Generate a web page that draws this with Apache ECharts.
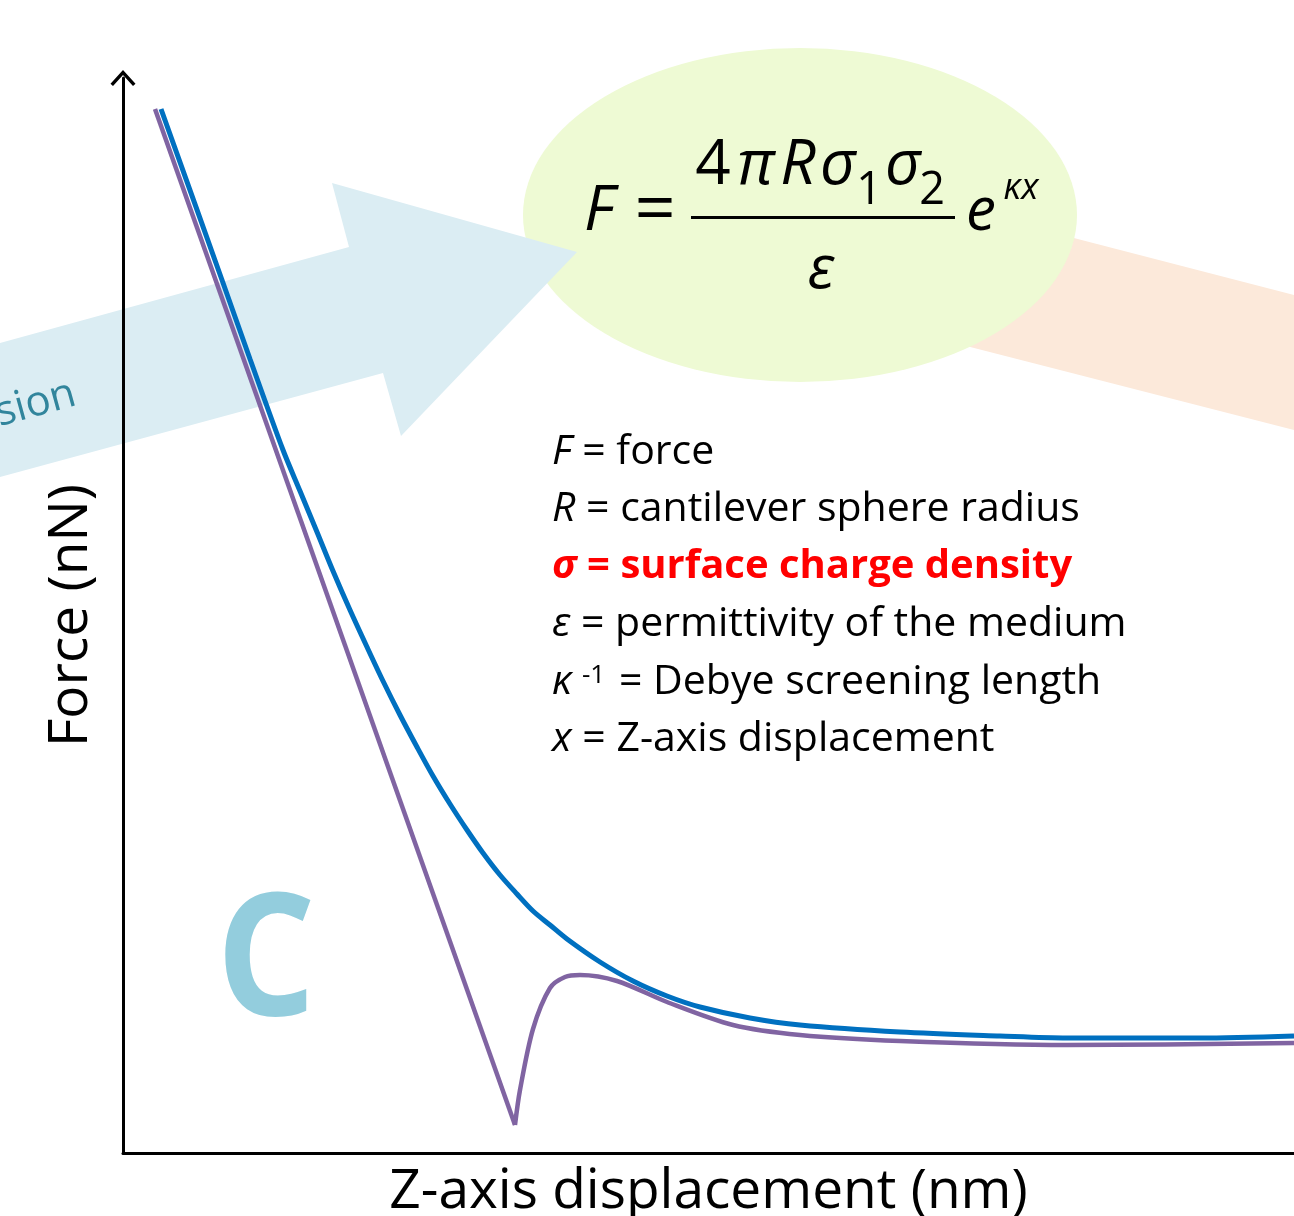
<!DOCTYPE html>
<html>
<head>
<meta charset="utf-8">
<script src="https://cdn.jsdelivr.net/npm/echarts@6/dist/echarts.min.js"></script>
<style>
  html, body { margin: 0; padding: 0; background: #fff; }
  #chart { width: 1294px; height: 1216px; }
</style>
</head>
<body>
<div id="chart"></div>
<script>
// force curves, arbitrary units (x: displacement, y: force)
const approachCurve = [
  [3.8, 104.4], [9.9, 87.3], [12.7, 79.4], [16.0, 70.3], [17.7, 66.2], [19.4, 62.1],
  [21.0, 58.2], [22.7, 54.3], [24.4, 50.6], [26.0, 47.2], [27.7, 43.8], [29.4, 40.6],
  [31.0, 37.7], [32.7, 34.9], [34.4, 32.3], [36.0, 30.0], [37.7, 27.8], [39.4, 25.9],
  [41.0, 24.2], [42.7, 22.8], [44.4, 21.4], [47.7, 19.1], [51.0, 17.2], [54.4, 15.7],
  [57.7, 14.6], [62.7, 13.5], [67.7, 12.8], [77.7, 12.1], [87.7, 11.7], [94.4, 11.5],
  [107.7, 11.5], [117.1, 11.7]
];
const retractLinear = [[3.2, 104.4], [39.2, 2.8]];
const retractCurve = [
  [39.2, 2.8], [39.7, 6.3], [41.0, 12.4], [42.7, 16.5], [44.2, 17.6], [45.7, 17.8],
  [49.4, 17.2], [54.4, 15.1], [61.0, 12.8], [67.7, 11.8], [77.7, 11.2], [94.4, 10.8], [117.1, 11.0]
];
const xMax = 117.1;
const yMax = 107.5;

const legendLines = [
  { text: "{i|F} = force", color: "#000", bold: false },
  { text: "{i|R} = cantilever sphere radius", color: "#000", bold: false },
  { text: "{i|σ} = surface charge density", color: "#ff0000", bold: true },
  { text: "{i|ε} = permittivity of the medium", color: "#000", bold: false },
  { text: "", color: "#000", bold: false },
  { text: "{i|x} = Z-axis displacement", color: "#000", bold: false }
];

const FONT = "Open Sans";
const BLUE = "#0070c0";
const PURPLE = "#8064a2";

function txt(x, y, text, size, extra) {
  return {
    type: "text",
    z: 20,
    style: Object.assign({
      x: x, y: y, text: text, fontSize: size, fontFamily: FONT, fill: "#000",
      align: "center", verticalAlign: "middle"
    }, extra || {})
  };
}

const graphics = [
  // background shapes
  { type: "polygon", z: -12, shape: { points: [[900, 193], [1294, 295], [1294, 430], [900, 329]] }, style: { fill: "#fce9da" } },
  { type: "circle", z: -11, x: 800, y: 215, scaleX: 277 / 167, shape: { cx: 0, cy: 0, r: 167 }, style: { fill: "#eefad4" } },
  { type: "polygon", z: -10, shape: { points: [[0, 343], [349, 247], [332, 183], [577, 252], [401, 436], [383, 373], [0, 477]] }, style: { fill: "#dbedf3" } },
  { type: "text", z: -9, x: 75, y: 393, rotation: 0.27,
    style: { x: 0, y: 0, text: "sion", fontSize: 42, fontFamily: FONT, fill: "#31859c", align: "right", verticalAlign: "middle" } },
  { type: "text", z: 1, x: 266, y: 967, scaleX: 0.92,
    style: { x: 0, y: 0, text: "C", fontSize: 170, fontFamily: FONT, fontWeight: "bold", fill: "#93cddd", align: "center", verticalAlign: "middle" } },

  // formula
  txt(599, 235 - 23, "F", 63, { fontStyle: "italic" }),
  txt(655, 212, "=", 72),
  { type: "rect", z: 20, shape: { x: 691, y: 216, width: 264, height: 3 }, style: { fill: "#000" } },
  txt(713, 188 - 22, "4", 62),
  txt(756, 188 - 22, "π", 62, { fontStyle: "italic" }),
  txt(798, 188 - 22, "R", 62, { fontStyle: "italic" }),
  txt(838, 188 - 22, "σ", 62, { fontStyle: "italic" }),
  txt(869, 207 - 16, "1", 45),
  txt(903, 188 - 22, "σ", 62, { fontStyle: "italic" }),
  txt(932, 207 - 16, "2", 45),
  txt(821, 293 - 22, "ε", 60, { fontStyle: "italic" }),
  txt(981, 235 - 22, "e", 60, { fontStyle: "italic" }),
  txt(1021, 202 - 13, "κx", 36, { fontStyle: "italic" }),

  // kappa line pieces
  txt(552, 697 - 15, "κ", 41, { fontStyle: "italic", align: "left" }),
  txt(582, 676, "-1", 26, { align: "left" }),
  txt(619, 697 - 15, "= Debye screening length", 41, { align: "left" })
];

legendLines.forEach(function (ln, k) {
  if (!ln.text) return;
  const base = 467 + k * 57.5;
  const size = ln.bold ? 40 : 41;
  graphics.push({
    type: "text", z: 20,
    style: {
      x: 552, y: base - 15, text: ln.text, fontSize: size, fontFamily: FONT,
      fill: ln.color, fontWeight: ln.bold ? "bold" : "normal",
      align: "left", verticalAlign: "middle",
      rich: {
        i: { fontStyle: "italic", fontSize: size, fontFamily: FONT, fill: ln.color, fontWeight: ln.bold ? "bold" : "normal" }
      }
    }
  });
});

const chart = echarts.init(document.getElementById("chart"));
chart.setOption({
  backgroundColor: "#fff",
  animation: false,
  grid: { left: 123, right: 0, top: 78, bottom: 63, outerBoundsMode: "none" },
  xAxis: {
    type: "value", min: 0, max: xMax,
    name: "Z-axis displacement (nm)", nameLocation: "middle", nameGap: 12,
    nameTextStyle: { fontSize: 55, fontFamily: FONT, color: "#000", verticalAlign: "top" },
    axisLine: { lineStyle: { color: "#000", width: 3 } },
    axisTick: { show: false }, axisLabel: { show: false }, splitLine: { show: false }
  },
  yAxis: {
    type: "value", min: 0, max: yMax,
    name: "Force (nN)", nameLocation: "middle", nameGap: 24,
    nameTextStyle: { fontSize: 55, fontFamily: FONT, color: "#000" },
    axisLine: {
      show: true,
      lineStyle: { color: "#000", width: 3 },
      symbol: ["none", "path://M0,13 L12,0 L24,13 L21.6,15.2 L12,4.6 L2.4,15.2 Z"],
      symbolSize: [25, 16]
    },
    axisTick: { show: false }, axisLabel: { show: false }, splitLine: { show: false }
  },
  graphic: graphics,
  series: [
    {
      name: "Approach", type: "line", data: approachCurve, smooth: 0.3, symbol: "none",
      lineStyle: { color: BLUE, width: 5 }, z: 3
    },
    {
      name: "Retract", type: "line", data: retractLinear, symbol: "none",
      lineStyle: { color: PURPLE, width: 4.5 }, z: 2
    },
    {
      name: "Retract", type: "line", data: retractCurve, smooth: 0.3, symbol: "none",
      lineStyle: { color: PURPLE, width: 4.5 }, z: 2
    }
  ]
});
</script>
</body>
</html>
